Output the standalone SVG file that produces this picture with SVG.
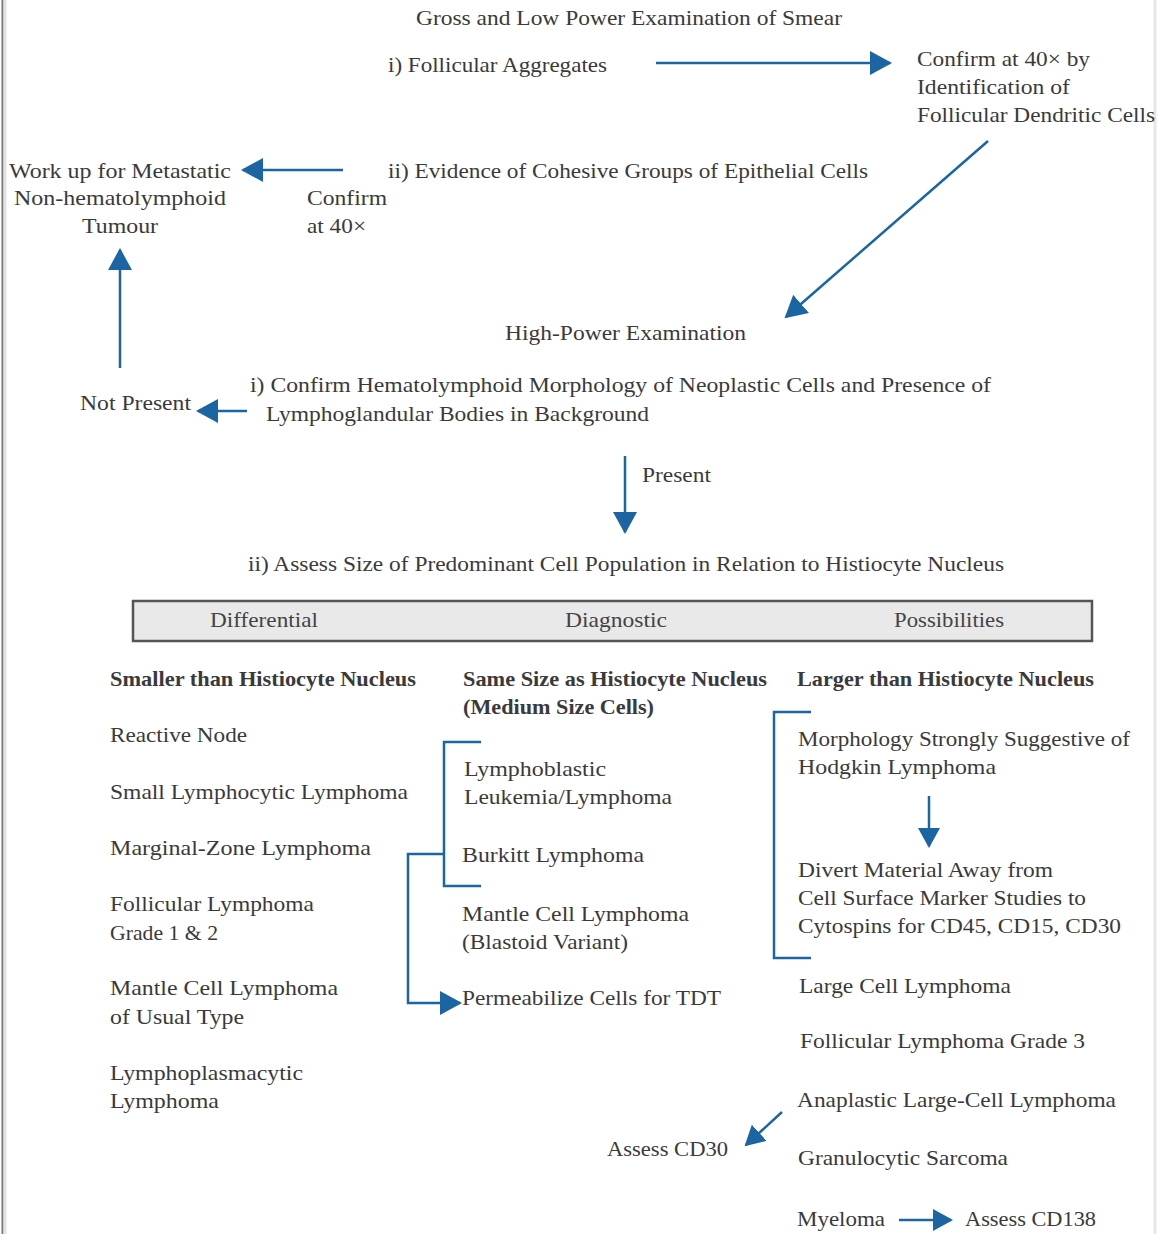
<svg xmlns="http://www.w3.org/2000/svg" width="1158" height="1234" viewBox="0 0 1158 1234">
  <defs>
    <marker id="head" viewBox="0 0 22 24" refX="20" refY="12" markerWidth="22" markerHeight="24" markerUnits="userSpaceOnUse" orient="auto">
      <path d="M0,0 L22,12 L0,24 Z" fill="#1a65a2"/>
    </marker>
    <marker id="headS" viewBox="0 0 20 22" refX="18" refY="11" markerWidth="20" markerHeight="22" markerUnits="userSpaceOnUse" orient="auto">
      <path d="M0,0 L20,11 L0,22 Z" fill="#1a65a2"/>
    </marker>
  </defs>
  <style>
    text { font-family: "Liberation Serif", "Times New Roman", serif; font-size: 21px; fill: #3a3a3a; }
    .b { font-weight: bold; }
    .hd { fill: #444; }
    .arr { fill: none; stroke: #1a65a2; stroke-width: 2.5; marker-end: url(#head); }
    .arrs { fill: none; stroke: #1a65a2; stroke-width: 2.5; marker-end: url(#headS); }
    .brk { fill: none; stroke: #1a65a2; stroke-width: 2.5; }
  </style>
  <rect x="0" y="0" width="1158" height="1234" fill="#ffffff"/>
  <!-- page edges -->
  <line x1="2.5" y1="0" x2="2.5" y2="1234" stroke="#777" stroke-width="2"/>
  <line x1="5" y1="0" x2="5" y2="1234" stroke="#e2e2e2" stroke-width="3"/>
  <line x1="1155" y1="0" x2="1155" y2="1234" stroke="#e6e6e6" stroke-width="3"/>

  <!-- connectors -->
  <g id="connectors">
    <line class="arr" x1="656" y1="63" x2="890" y2="63"/>
    <line class="arr" x1="988" y1="141" x2="786" y2="317"/>
    <line class="arr" x1="343" y1="170" x2="243" y2="170"/>
    <line class="arr" x1="120" y1="368" x2="120" y2="250"/>
    <line class="arr" x1="247" y1="411" x2="198" y2="411"/>
    <line class="arr" x1="625" y1="456" x2="625" y2="532"/>
    <polyline class="brk" points="481,742 444,742 444,886 481,886"/>
    <polyline class="arr" points="444,854 408,854 408,1003 460,1003"/>
    <polyline class="brk" points="811,712 774,712 774,958 811,958"/>
    <line class="arrs" x1="929" y1="796" x2="929" y2="846"/>
    <line class="arrs" x1="782" y1="1112" x2="746" y2="1145"/>
    <line class="arrs" x1="899" y1="1220" x2="951" y2="1220"/>
  </g>

  <g id="gross"><text x="416" y="25" textLength="426" lengthAdjust="spacingAndGlyphs">Gross and Low Power Examination of Smear</text></g>
  <g id="follicular"><text x="388" y="72" textLength="219" lengthAdjust="spacingAndGlyphs">i) Follicular Aggregates</text></g>
  <g id="confirm-fdc">
    <text x="917" y="66" textLength="173" lengthAdjust="spacingAndGlyphs">Confirm at 40× by</text>
    <text x="917" y="94" textLength="153" lengthAdjust="spacingAndGlyphs">Identification of</text>
    <text x="917" y="122" textLength="238" lengthAdjust="spacingAndGlyphs">Follicular Dendritic Cells</text>
  </g>
  <g id="workup">
    <text x="9" y="178" textLength="222" lengthAdjust="spacingAndGlyphs">Work up for Metastatic</text>
    <text x="14" y="205" textLength="212" lengthAdjust="spacingAndGlyphs">Non-hematolymphoid</text>
    <text x="82" y="233" textLength="76" lengthAdjust="spacingAndGlyphs">Tumour</text>
  </g>
  <g id="epithelial"><text x="388" y="178" textLength="480" lengthAdjust="spacingAndGlyphs">ii) Evidence of Cohesive Groups of Epithelial Cells</text></g>
  <g id="confirm40">
    <text x="307" y="205" textLength="80" lengthAdjust="spacingAndGlyphs">Confirm</text>
    <text x="307" y="233" textLength="59" lengthAdjust="spacingAndGlyphs">at 40×</text>
  </g>
  <g id="highpower"><text x="505" y="340" textLength="241" lengthAdjust="spacingAndGlyphs">High-Power Examination</text></g>
  <g id="notpresent"><text x="80" y="410" textLength="111" lengthAdjust="spacingAndGlyphs">Not Present</text></g>
  <g id="hematolymphoid">
    <text x="250" y="392" textLength="741" lengthAdjust="spacingAndGlyphs">i) Confirm Hematolymphoid Morphology of Neoplastic Cells and Presence of</text>
    <text x="266" y="421" textLength="383" lengthAdjust="spacingAndGlyphs">Lymphoglandular Bodies in Background</text>
  </g>
  <g id="present"><text x="642" y="482" textLength="69" lengthAdjust="spacingAndGlyphs">Present</text></g>
  <g id="assess-size"><text x="248" y="571" textLength="756" lengthAdjust="spacingAndGlyphs">ii) Assess Size of Predominant Cell Population in Relation to Histiocyte Nucleus</text></g>

  <g id="header">
    <rect x="133" y="601" width="959" height="40" fill="#e9e9e9" stroke="#555" stroke-width="2.5"/>
    <text class="hd" x="210" y="627" textLength="108" lengthAdjust="spacingAndGlyphs">Differential</text>
    <text class="hd" x="565" y="627" textLength="102" lengthAdjust="spacingAndGlyphs">Diagnostic</text>
    <text class="hd" x="894" y="627" textLength="110" lengthAdjust="spacingAndGlyphs">Possibilities</text>
  </g>

  <g id="col-smaller">
    <text class="b" x="110" y="686" textLength="306" lengthAdjust="spacingAndGlyphs">Smaller than Histiocyte Nucleus</text>
    <text x="110" y="742" textLength="137" lengthAdjust="spacingAndGlyphs">Reactive Node</text>
    <text x="110" y="799" textLength="298" lengthAdjust="spacingAndGlyphs">Small Lymphocytic Lymphoma</text>
    <text x="110" y="855" textLength="261" lengthAdjust="spacingAndGlyphs">Marginal-Zone Lymphoma</text>
    <text x="110" y="911" textLength="204" lengthAdjust="spacingAndGlyphs">Follicular Lymphoma</text>
    <text x="110" y="940" textLength="108" lengthAdjust="spacingAndGlyphs">Grade 1 &amp; 2</text>
    <text x="110" y="995" textLength="228" lengthAdjust="spacingAndGlyphs">Mantle Cell Lymphoma</text>
    <text x="110" y="1024" textLength="134" lengthAdjust="spacingAndGlyphs">of Usual Type</text>
    <text x="110" y="1080" textLength="193" lengthAdjust="spacingAndGlyphs">Lymphoplasmacytic</text>
    <text x="110" y="1108" textLength="109" lengthAdjust="spacingAndGlyphs">Lymphoma</text>
  </g>

  <g id="col-same">
    <text class="b" x="463" y="686" textLength="304" lengthAdjust="spacingAndGlyphs">Same Size as Histiocyte Nucleus</text>
    <text class="b" x="463" y="714" textLength="191" lengthAdjust="spacingAndGlyphs">(Medium Size Cells)</text>
    <text x="464" y="776" textLength="142" lengthAdjust="spacingAndGlyphs">Lymphoblastic</text>
    <text x="464" y="804" textLength="208" lengthAdjust="spacingAndGlyphs">Leukemia/Lymphoma</text>
    <text x="462" y="862" textLength="182" lengthAdjust="spacingAndGlyphs">Burkitt Lymphoma</text>
    <text x="462" y="921" textLength="227" lengthAdjust="spacingAndGlyphs">Mantle Cell Lymphoma</text>
    <text x="462" y="949" textLength="166" lengthAdjust="spacingAndGlyphs">(Blastoid Variant)</text>
    <text x="462" y="1005" textLength="259" lengthAdjust="spacingAndGlyphs">Permeabilize Cells for TDT</text>
  </g>

  <g id="col-larger">
    <text class="b" x="797" y="686" textLength="297" lengthAdjust="spacingAndGlyphs">Larger than Histiocyte Nucleus</text>
    <text x="798" y="746" textLength="332" lengthAdjust="spacingAndGlyphs">Morphology Strongly Suggestive of</text>
    <text x="798" y="774" textLength="198" lengthAdjust="spacingAndGlyphs">Hodgkin Lymphoma</text>
    <text x="798" y="877" textLength="255" lengthAdjust="spacingAndGlyphs">Divert Material Away from</text>
    <text x="798" y="905" textLength="288" lengthAdjust="spacingAndGlyphs">Cell Surface Marker Studies to</text>
    <text x="798" y="933" textLength="323" lengthAdjust="spacingAndGlyphs">Cytospins for CD45, CD15, CD30</text>
    <text x="799" y="993" textLength="212" lengthAdjust="spacingAndGlyphs">Large Cell Lymphoma</text>
    <text x="800" y="1048" textLength="285" lengthAdjust="spacingAndGlyphs">Follicular Lymphoma Grade 3</text>
    <text x="797" y="1107" textLength="319" lengthAdjust="spacingAndGlyphs">Anaplastic Large-Cell Lymphoma</text>
    <text x="798" y="1165" textLength="210" lengthAdjust="spacingAndGlyphs">Granulocytic Sarcoma</text>
    <text x="797" y="1226" textLength="88" lengthAdjust="spacingAndGlyphs">Myeloma</text>
    <text x="965" y="1226" textLength="131" lengthAdjust="spacingAndGlyphs">Assess CD138</text>
  </g>
  <g id="assess-cd30"><text x="607" y="1156" textLength="121" lengthAdjust="spacingAndGlyphs">Assess CD30</text></g>
</svg>
